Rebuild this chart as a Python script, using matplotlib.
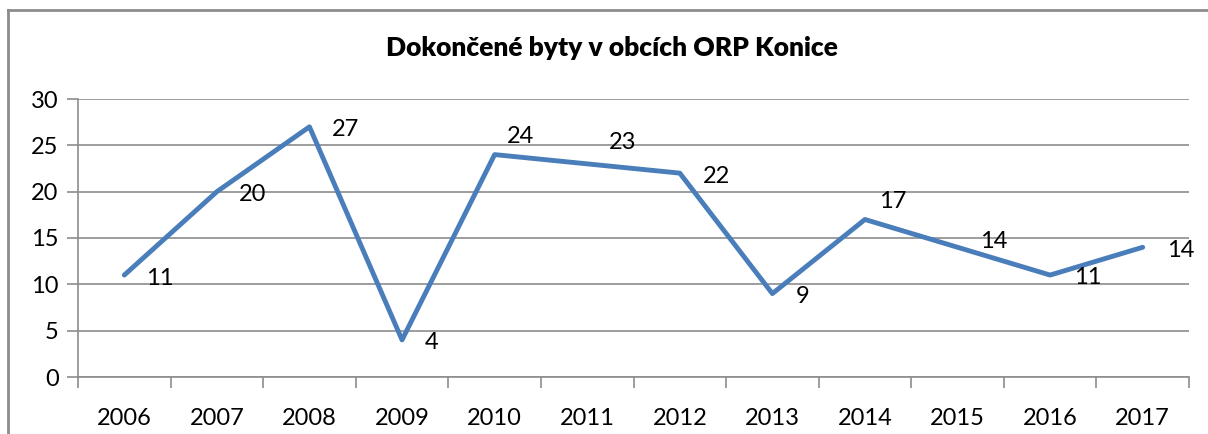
import matplotlib
matplotlib.use("Agg")
import matplotlib.pyplot as plt
from matplotlib.lines import Line2D

years = ["2006", "2007", "2008", "2009", "2010", "2011",
         "2012", "2013", "2014", "2015", "2016", "2017"]
flats = [11, 20, 27, 4, 24, 23, 22, 9, 17, 14, 11, 14]

# label offsets from the point, in pixels (x to left edge, y upwards)
label_dx = [22, 22, 22, 23, 12, 22, 23, 23, 14, 22, 24, 24]
label_dy = [-1, -1, -1, -1, 20, 23, -1, -1, 20, 8, 0, -1]

plt.rcParams["font.family"] = ["Lato", "DejaVu Sans"]

fig = plt.figure(figsize=(12.08, 4.34), dpi=100)
ax = fig.add_axes([78 / 1208, 57 / 434, 1111 / 1208, 278 / 434])

x = list(range(len(years)))
ax.plot(x, flats, color="#4A7EBB", linewidth=3.5,
        solid_joinstyle="round", solid_capstyle="round", zorder=3)

for xi, v, dx, dy in zip(x, flats, label_dx, label_dy):
    ax.annotate(str(v), (xi, v), xytext=(dx, dy), textcoords="offset pixels",
                ha="left", va="center_baseline", fontsize=17, color="black")

ax.set_xlim(-0.5, len(years) - 0.5)
ax.set_ylim(0, 30)
ax.set_yticks(range(0, 31, 5))
ax.yaxis.grid(True, color="#8c8c8c", linewidth=1.2)
ax.set_axisbelow(True)

ax.set_xticks(x)
ax.set_xticklabels(years)
ax.set_xticks([i - 0.5 for i in range(len(years) + 1)], minor=True)
ax.tick_params(axis="x", which="major", length=0, pad=22, labelsize=17)
ax.tick_params(axis="x", which="minor", length=8, width=1.2, color="#8c8c8c",
               direction="out")
ax.tick_params(axis="y", length=8, width=1.2, color="#8c8c8c",
               labelsize=17, pad=6)

for side in ["top", "right"]:
    ax.spines[side].set_visible(False)
for side in ["left", "bottom"]:
    ax.spines[side].set_color("#8c8c8c")
    ax.spines[side].set_linewidth(1.2)

fig.text(612 / 1208, 1 - 48 / 434, "Dokončené byty v obcích ORP Konice",
         ha="center", va="center", fontsize=19, fontweight="heavy")

# chart frame (only top and left edges fall inside the picture)
fig.add_artist(Line2D([8 / 1208, 8 / 1208], [0, 1 - 10 / 434],
                      transform=fig.transFigure, color="#8c8c8c", linewidth=2))
fig.add_artist(Line2D([8 / 1208, 1], [1 - 10 / 434, 1 - 10 / 434],
                      transform=fig.transFigure, color="#8c8c8c", linewidth=2))

fig.savefig("out.png", dpi=100)
